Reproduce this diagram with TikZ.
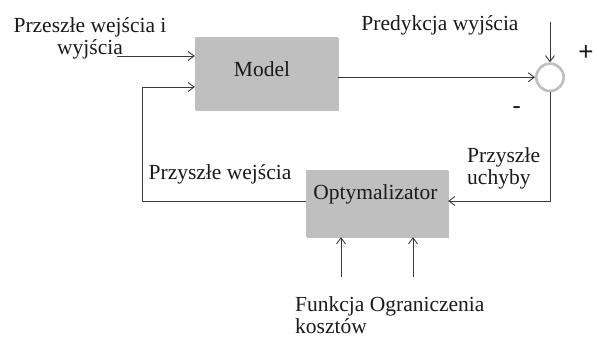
\documentclass[tikz,border=0pt]{standalone}
\usepackage{fontspec}
\setmainfont{Liberation Serif}
\newfontfamily\signfont{Liberation Sans}
\usetikzlibrary{arrows.meta,shadows,calc}
\definecolor{boxgray}{HTML}{BFBFBF}
\definecolor{linec}{HTML}{3A3A3A}
\definecolor{txtc}{HTML}{1A1A1A}
\begin{document}
\begin{tikzpicture}[x=1pt,y=-1pt,
  line/.style={draw=linec, line width=0.9pt},
  arr/.style={line, -{Straight Barb[length=6pt,width=9pt]}},
  block/.style={fill=boxgray, draw=none, inner sep=0pt,
    drop shadow={shadow xshift=0.6pt, shadow yshift=-1.2pt, opacity=0.25, fill=black}},
  lbl/.style={font=\fontsize{21.5}{21.7}\selectfont, text=txtc, inner sep=0pt},
  sign/.style={font=\signfont\fontsize{26}{26}\selectfont, text=txtc, inner sep=0pt, anchor=base}
]
\useasboundingbox (0,0) rectangle (597,338);
\fill[white] (0,0) rectangle (597,338);

% blocks
\node[block, minimum width=143pt, minimum height=73pt] (model) at (266.5,73.5) {};
\node[lbl, anchor=base] (modeltxt) at (262,76) {Model};
\node[block, minimum width=142pt, minimum height=67pt] (opt) at (377,203.5) {};
\node[lbl, anchor=base] (opttxt) at (375.5,199) {Optymalizator};
\node[circle, draw=boxgray, line width=2.6pt, minimum size=27.4pt, inner sep=0pt] (sum) at (550,77.3) {};

% free ends / bends
\coordinate (inA) at (117,56);
\coordinate (top) at (550,21.7);
\coordinate (fb1) at (142,201);
\coordinate (fb2) at (142,87);
\coordinate (err) at (550,201);
\coordinate (f1) at (341,277);
\coordinate (f2) at (413,277);

% connectors
\draw[arr] (inA) -- (inA -| model.west);
\draw[arr] (top) -- (sum.north);
\draw[arr] (sum.west -| model.east) -- (sum.west);
\draw[arr] (opt.west |- fb1) -- (fb1) -- (fb2) -- (fb2 -| model.west);
\draw[arr] (sum.south) -- (err) -- (err -| opt.east);
\draw[arr] (f1) -- (f1 |- opt.south);
\draw[arr] (f2) -- (f2 |- opt.south);

% labels (base anchor of a two-line node lies on its last line)
\node[lbl, anchor=base, align=center] (past) at (90,54.3) {Przeszłe wejścia i\\wyjścia};
\node[lbl, anchor=base] (pred) at (440,30) {Predykcja wyjścia};
\node[lbl, anchor=base] (futin) at (220,179.3) {Przyszłe wejścia};
\node[lbl, anchor=base west, align=left] (futerr) at (467,184.3) {Przyszłe\\uchyby};
\node[lbl, anchor=base west, align=left] (cost) at (295,333.5) {Funkcja Ograniczenia\\kosztów};
\node[sign] (plus) at (586,60.4) {+};
\node[sign] (minus) at (516.7,114.5) {-};
\end{tikzpicture}
\end{document}
